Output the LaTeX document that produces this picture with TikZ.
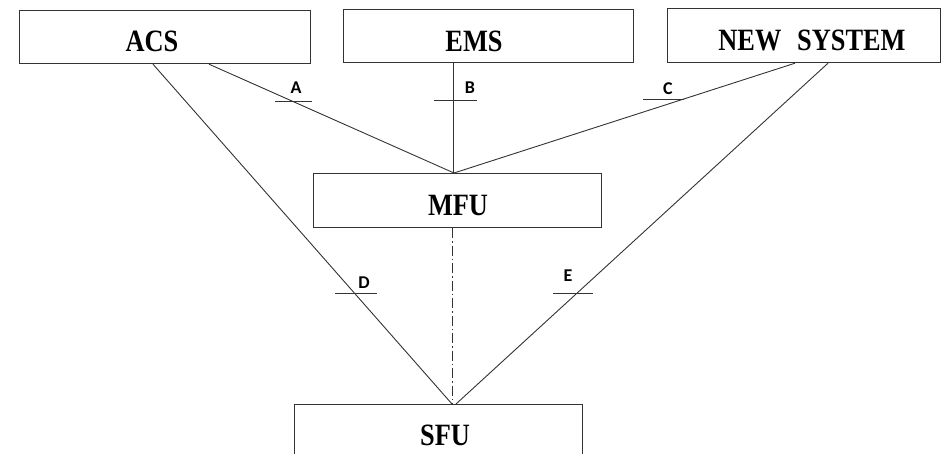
\documentclass[tikz,border=0pt]{standalone}
\usepackage{fontspec}
\setmainfont{Liberation Serif}
\newfontfamily\lblfont{Carlito}
\usetikzlibrary{calc}
\definecolor{ln}{HTML}{333333}
\newcommand{\boxtxt}[1]{\scalebox{0.85}[1]{\fontsize{31}{33}\selectfont\bfseries #1}}
\tikzset{
  sysbox/.style={draw=ln, line width=1.2pt, rectangle, inner sep=0pt, anchor=north west},
  conn/.style={draw=ln, line width=0.9pt},
  tickmark/.style={draw=ln, line width=0.9pt},
  lbl/.style={font=\lblfont\bfseries\fontsize{18}{19}\selectfont, text=black, inner sep=0pt}
}
\begin{document}
\begin{tikzpicture}[x=1pt,y=-1pt]
\useasboundingbox (0,0) rectangle (942,454);
% boxes
\node[sysbox, minimum width=291pt, minimum height=53pt] (acs) at (19,10) {};
\node[sysbox, minimum width=290pt, minimum height=53pt] (ems) at (343,9) {};
\node[sysbox, minimum width=273pt, minimum height=54pt] (new) at (667,8) {};
\node[sysbox, minimum width=288pt, minimum height=54pt] (mfu) at (313,173) {};
\node[sysbox, minimum width=288pt, minimum height=60pt] (sfu) at (294,404) {};
% box texts
\node (tacs) at (152,41) {\boxtxt{ACS}};
\node (tems) at (474,41) {\boxtxt{EMS}};
\node (tnew) at (812,40) {\boxtxt{NEW\hspace{0.6em}SYSTEM}};
\node (tmfu) at (458,205) {\boxtxt{MFU}};
\node (tsfu) at (445,435) {\boxtxt{SFU}};
% connector end points
\coordinate (acsA) at ($(acs.south west)+(190,0)$);
\coordinate (acsD) at ($(acs.south west)+(134,0)$);
\coordinate (emsB) at ($(ems.south west)+(110,0)$);
\coordinate (newC) at ($(new.south west)+(128,0)$);
\coordinate (newE) at ($(new.south west)+(161,0)$);
\coordinate (mfuT) at ($(mfu.north west)+(141,0)$);
\coordinate (mfuB) at ($(mfu.south west)+(139,0)$);
\coordinate (sfuT) at ($(sfu.north west)+(158,0)$);
\coordinate (sfuT2) at ($(sfu.north west)+(162,0)$);
% connectors
\draw[conn] (acsA) -- coordinate[pos=0.342] (tA) (mfuT);
\draw[conn] (emsB) -- coordinate[pos=0.342] (tB) (emsB |- mfuT);
\draw[conn] (newC) -- coordinate[pos=0.333] (tC) (mfuT);
\draw[conn] (acsD) -- coordinate[pos=0.675] (tD) (sfuT);
\draw[conn] (newE) -- coordinate[pos=0.675] (tE) (sfuT2);
\draw[conn, dash pattern=on 10pt off 3pt on 1.5pt off 3pt] (mfuB) -- (mfuB |- sfuT);
% tick marks
\draw[tickmark] ($(tA)+(-18,0)$) -- ($(tA)+(19,0)$);
\draw[tickmark] ($(tB)+(-19,0)$) -- ($(tB)+(24,0)$);
\draw[tickmark] ($(tC)+(-38,0)$) -- ($(tC)+(3,0)$);
\draw[tickmark] ($(tD)+(-20,0)$) -- ($(tD)+(22,0)$);
\draw[tickmark] ($(tE)+(-24,0)$) -- ($(tE)+(16,0)$);
% labels
\node[lbl] (lA) at (296,88) {A};
\node[lbl] (lB) at (470,88) {B};
\node[lbl] (lC) at (668,89) {C};
\node[lbl] (lD) at (364,283) {D};
\node[lbl] (lE) at (568,276) {E};
\end{tikzpicture}
\end{document}
